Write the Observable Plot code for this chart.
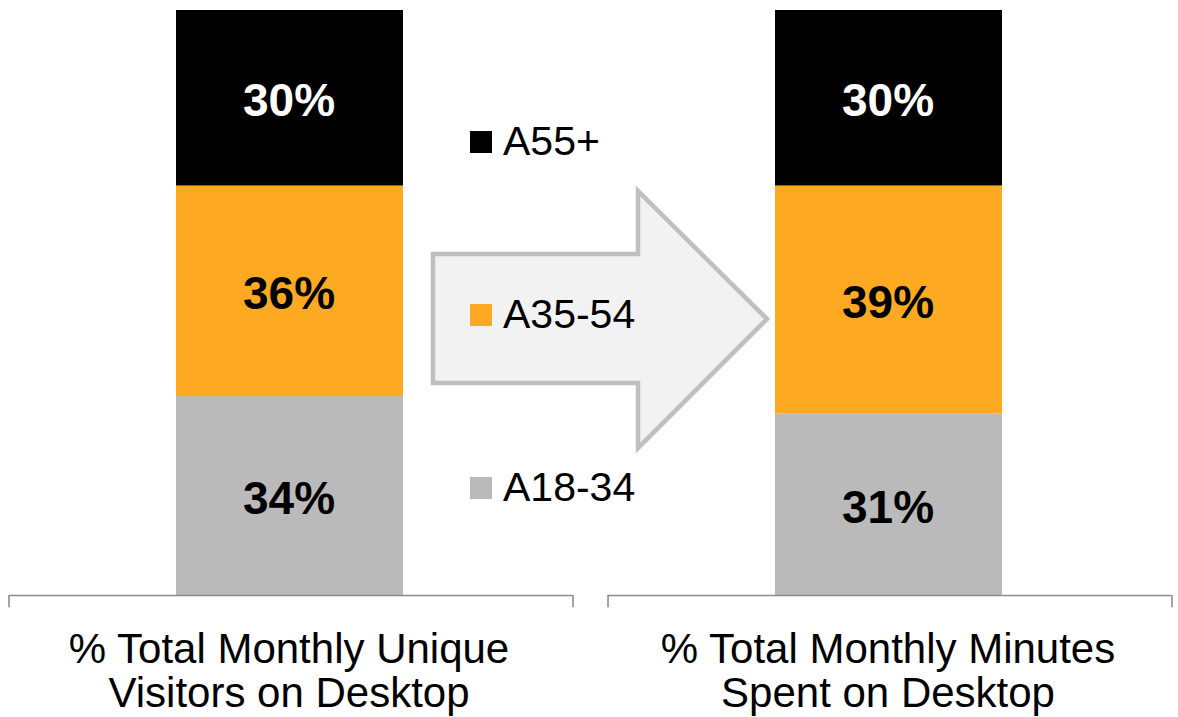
<!DOCTYPE html>
<html>
<head>
<meta charset="utf-8">
<script src="https://cdn.jsdelivr.net/npm/d3@7"></script>
<script src="https://cdn.jsdelivr.net/npm/@observablehq/plot@0.6"></script>
<style>
  html, body { margin: 0; padding: 0; background: #ffffff; }
  #wrap { position: relative; width: 1178px; height: 717px; font-family: "Liberation Sans", Arial, sans-serif; }
  #wrap > svg.plotsvg { position: absolute; left: 0; top: 0; }
  #arrow { position: absolute; left: 0; top: 0; }
  #legend { position: absolute; left: 470px; top: 55px; }
  #legend .lg-swatches { margin: 0 !important; min-height: 0 !important; font-family: "Liberation Sans", Arial, sans-serif; font-size: 41px; color: #000; }
  #legend .lg-swatch { height: 173px; padding: 0 !important; display: flex; align-items: center; }
  #legend .lg-swatch > svg { margin-right: 11px !important; }
  #legend .lg-swatch-label { font-size: 41px; overflow: visible !important; }
</style>
</head>
<body>
<div id="wrap"></div>
<script>
// ---- data ----
const categories = ["% Total Monthly Unique\nVisitors on Desktop", "% Total Monthly Minutes\nSpent on Desktop"];
const ageGroups = ["A18-34", "A35-54", "A55+"];          // bottom -> top of the stack
const visitorsShare = [34, 36, 30];                        // % Total Monthly Unique Visitors
const minutesShare = [31, 39, 30];                         // % Total Monthly Minutes
const ageColors = ["#BABABA", "#FDAA22", "#000000"];

const seriesByCategory = [visitorsShare, minutesShare];
const rows = categories.flatMap((c, i) =>
  ageGroups.map((a, j) => ({category: c, age: a, value: seriesByCategory[i][j]}))
);

const halfBand = 284;
const axisColor = "#8C8C8C";

const chart = Plot.plot({
  width: 1178,
  height: 717,
  marginTop: 10,
  marginBottom: 122,
  marginLeft: 8,
  marginRight: 2,
  style: {fontFamily: "Liberation Sans, Arial, sans-serif", background: "transparent"},
  x: {axis: null, domain: categories, paddingInner: 0.0533, paddingOuter: 0},
  y: {axis: null, domain: [0, 100]},
  color: {domain: ageGroups, range: ageColors},
  marks: [
    Plot.barY(rows, {x: "category", y: "value", fill: "age", insetLeft: 167, insetRight: 173}),
    Plot.text(rows, Plot.stackY({
      x: "category", y: "value", z: "age",
      text: d => d.age === "A55+" ? d.value + "%" : "",
      fill: "white", fontSize: 46, fontWeight: "bold", dx: -4, dy: 3
    })),
    Plot.text(rows, Plot.stackY({
      x: "category", y: "value", z: "age",
      text: d => d.age !== "A55+" ? d.value + "%" : "",
      fill: "black", fontSize: 46, fontWeight: "bold", dx: -4, dy: 3
    })),
    Plot.tickY(categories, {x: d => d, y: () => 0, stroke: axisColor, strokeWidth: 1.6, insetRight: 4}),
    Plot.ruleX(categories, {x: d => d, y1: () => 0, y2: () => -2.1, dx: -halfBand, stroke: axisColor, strokeWidth: 1.6}),
    Plot.ruleX(categories, {x: d => d, y1: () => 0, y2: () => -2.1, dx: halfBand - 4, stroke: axisColor, strokeWidth: 1.6}),
    Plot.text(categories, {
      x: d => d, y: () => 0, text: d => d,
      lineAnchor: "top", dy: 36, dx: -4, fontSize: 42, lineHeight: 1.05, fill: "black"
    })
  ]
});
chart.classList.add("plotsvg");

const wrap = document.getElementById("wrap");
wrap.appendChild(chart);

// decorative arrow between the two bars
const arrow = d3.create("svg")
  .attr("id", "arrow")
  .attr("width", 1178)
  .attr("height", 717);
arrow.append("polygon")
  .attr("points", "433,254 638,254 638,191 767,319 638,448 638,383 433,383")
  .attr("fill", "#F2F2F2")
  .attr("stroke", "#BFBFBF")
  .attr("stroke-width", 4.5)
  .attr("stroke-linejoin", "miter");
wrap.appendChild(arrow.node());

// legend (top -> bottom: A55+, A35-54, A18-34)
const legend = Plot.legend({
  color: {type: "ordinal", domain: ageGroups.slice().reverse(), range: ageColors.slice().reverse()},
  legend: "swatches",
  columns: 1,
  swatchSize: 22,
  className: "lg"
});
const legendBox = document.createElement("div");
legendBox.id = "legend";
legendBox.appendChild(legend);
wrap.appendChild(legendBox);
</script>
</body>
</html>
